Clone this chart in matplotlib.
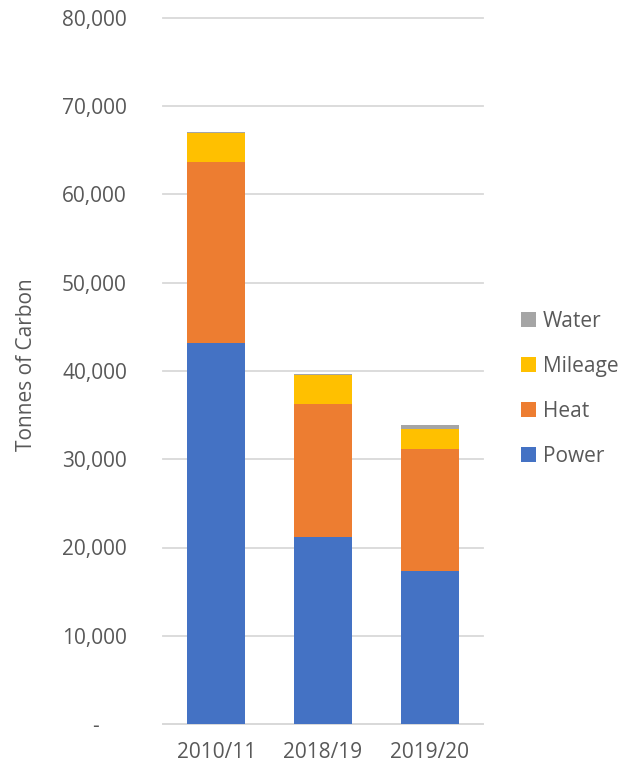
import matplotlib
matplotlib.use("Agg")
import matplotlib.pyplot as plt
from matplotlib.patches import Patch
import numpy as np

categories = ["2010/11", "2018/19", "2019/20"]
power = [43170, 21190, 17340]
heat = [20510, 15070, 13790]
mileage = [3290, 3250, 2330]
water = [150, 150, 390]
series_names = ["Power", "Heat", "Mileage", "Water"]
colors = ["#4472C4", "#ED7D31", "#FFC000", "#A5A5A5"]
yticks = [0, 10000, 20000, 30000, 40000, 50000, 60000, 70000, 80000]

plt.rcParams['font.family'] = ['Open Sans', 'DejaVu Sans']
txt = "#595959"

fig = plt.figure(figsize=(6.38, 7.69), dpi=100)
ax = fig.add_axes([163/638, 1-724/769, (483-163)/638, (724-18)/769])

x = np.arange(len(categories))
bottom = np.zeros(len(categories))
for vals, c, name in zip([power, heat, mileage, water], colors, series_names):
    ax.bar(x, vals, bottom=bottom, width=0.545, color=c, label=name, zorder=3)
    bottom += np.array(vals)

ax.set_xlim(-0.5, 2.5)
ax.set_ylim(0, 80000)
ax.set_yticks(yticks)
ax.set_yticklabels(["-     "] + [f"{v:,}" for v in yticks[1:]])
ax.set_xticks(x)
ax.set_xticklabels(categories)
ax.tick_params(axis='both', length=0, labelsize=15, colors=txt)
ax.tick_params(axis='y', pad=26)
ax.tick_params(axis='x', pad=13)
ax.grid(axis='y', color="#D9D9D9", linewidth=1.3, zorder=0)
for s in ["top", "right", "left"]:
    ax.spines[s].set_visible(False)
ax.spines["bottom"].set_color("#D9D9D9")
ax.spines["bottom"].set_linewidth(1.3)
for gl in ax.get_ygridlines():
    gl.set_clip_on(False)

fig.text(27/638, 1-365/769, "Tonnes of Carbon", rotation=90, ha='center', va='center',
         fontsize=15, color=txt)

handles = [Patch(facecolor=c, edgecolor='none') for c in colors][::-1]
labels = series_names[::-1]
leg = fig.legend(handles, labels, loc='center left', bbox_to_anchor=(521/638, 1-389/769),
                 frameon=False, fontsize=15, labelspacing=1.15, handlelength=0.7,
                 handleheight=0.7, handletextpad=0.35, borderpad=0, borderaxespad=0,
                 labelcolor=txt)

fig.savefig("out.png", dpi=100)
